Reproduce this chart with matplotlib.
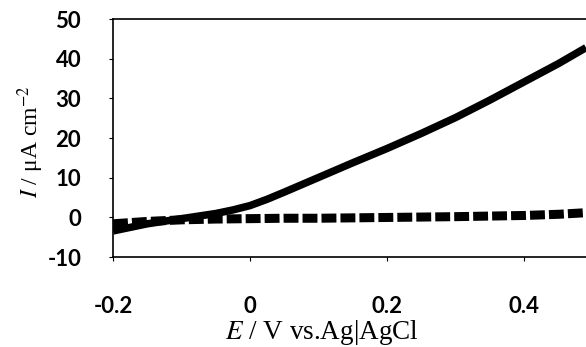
import matplotlib.pyplot as plt
import numpy as np

# Data
E_solid = [-0.2, -0.15, -0.1, -0.05, -0.025, 0.0, 0.025, 0.05, 0.1, 0.15, 0.2, 0.25, 0.3, 0.35, 0.4, 0.45, 0.49]
I_solid = [-3.4, -1.6, -0.3, 1.0, 1.9, 3.0, 4.6, 6.4, 10.1, 13.8, 17.4, 21.2, 25.2, 29.6, 34.2, 38.8, 42.8]

E_dash = [-0.2, -0.15, -0.1, -0.05, 0.0, 0.05, 0.1, 0.15, 0.2, 0.25, 0.3, 0.35, 0.4, 0.45, 0.49]
I_dash = [-1.6, -1.0, -0.6, -0.4, -0.3, -0.2, -0.2, -0.1, 0.0, 0.1, 0.2, 0.35, 0.5, 0.8, 1.2]

xticks = [-0.2, 0, 0.2, 0.4]
xticklabels = ["-0.2", "0", "0.2", "0.4"]
yticks = [-10, 0, 10, 20, 30, 40, 50]

plt.rcParams['mathtext.fontset'] = 'stix'
plt.rcParams['axes.unicode_minus'] = False

fig = plt.figure(figsize=(5.86, 3.47), dpi=100)
ax = fig.add_axes([0.193, 0.259, 0.807, 0.686])

ax.plot(E_solid, I_solid, color='black', lw=5.4, solid_capstyle='butt')
ax.plot(E_dash, I_dash, color='black', lw=6.5, dashes=(1.65, 0.45))

ax.set_xlim(-0.2, 0.49)
ax.set_ylim(-10, 50)
ax.set_xticks(xticks)
ax.set_xticklabels(xticklabels)
ax.set_yticks(yticks)

for lab in ax.get_xticklabels() + ax.get_yticklabels():
    lab.set_family('Lato')
    lab.set_weight('bold')
    lab.set_fontsize(16)

ax.tick_params(axis='x', direction='out', length=3, width=0.8, pad=25)
ax.tick_params(axis='y', direction='out', length=3, width=0.8, pad=20)

for s in ['left', 'bottom', 'top']:
    ax.spines[s].set_linewidth(1.2)
ax.spines['right'].set_visible(False)

xl = ax.set_xlabel(r'$E$ / V vs.Ag|AgCl', family='Liberation Serif', fontsize=19.5)
xl.set_va('baseline')
ax.xaxis.set_label_coords(0.442, -0.345)

yl = ax.set_ylabel(r'$I$ / μA cm$^{-2}$', family='Liberation Serif', fontsize=17)
yl.set_va('center')
ax.yaxis.set_label_coords(-0.175, 0.483)

fig.savefig('out.png', dpi=100)
